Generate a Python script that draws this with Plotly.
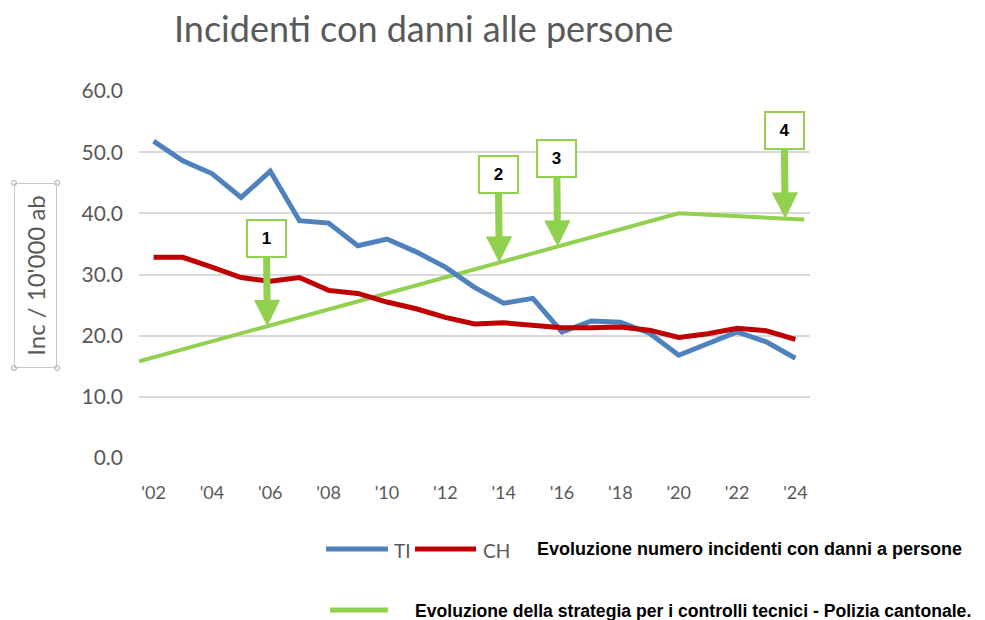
import numpy as np
import plotly.graph_objects as go

# ---------------- data ----------------
years = list(range(2002, 2025))
ti_values = [51.8, 48.6, 46.5, 42.6, 46.9, 38.8, 38.4, 34.7, 35.8, 33.7, 31.2, 27.9,
             25.3, 26.1, 20.6, 22.4, 22.2, 20.4, 16.8, 18.8, 20.6, 19.0, 16.3]
ch_values = [32.8, 32.8, 31.2, 29.5, 28.9, 29.5, 27.4, 26.9, 25.5, 24.4, 23.0, 21.9,
             22.1, 21.7, 21.3, 21.3, 21.4, 20.9, 19.7, 20.3, 21.2, 20.8, 19.4]
strategy_years = [2001.5, 2020.0, 2024.3]
strategy_values = [15.8, 40.0, 39.0]
step_labels = ["1", "2", "3", "4"]
step_years = [2005.9, 2013.85, 2015.85, 2023.65]
tick_years = list(range(2002, 2025, 2))
tick_labels = ["'" + str(y)[2:] for y in tick_years]
y_ticks = [0, 10, 20, 30, 40, 50, 60]

title_text = "Incidenti con danni alle persone"
y_title = "Inc / 10'000 ab"
legend_row1 = "Evoluzione numero incidenti con danni a persone"
legend_row2 = "Evoluzione della strategia per i controlli tecnici - Polizia cantonale."

# ---------------- style ----------------
BLUE = "#4F81BD"
RED = "#C00000"
GREEN = "#92D050"
GRAY = "#595959"
GRID = "#D9D9D9"

W, H = 985, 620
L, R, T, B = 139, 810, 91, 458  # plot area in pixels


def px(xp):
    return (xp - L) / (R - L)


def py(yp):
    return (B - yp) / (B - T)


fig = go.Figure()
fig.add_trace(go.Scatter(x=strategy_years, y=strategy_values, mode="lines",
                         line=dict(color=GREEN, width=4), name="strategia",
                         hoverinfo="skip"))
fig.add_trace(go.Scatter(x=years, y=ti_values, mode="lines",
                         line=dict(color=BLUE, width=5), name="TI"))
fig.add_trace(go.Scatter(x=years, y=ch_values, mode="lines",
                         line=dict(color=RED, width=5), name="CH"))

annotations = []
step_tips = np.interp(step_years, strategy_years, strategy_values)
for lab, xv, yv in zip(step_labels, step_years, step_tips):
    annotations.append(dict(
        x=xv, y=yv, xref="x", yref="y", text="<b>" + lab + "</b>",
        font=dict(family="Liberation Sans, Arial", size=17, color="black"),
        showarrow=True, ax=-1, ay=-88, axref="pixel", ayref="pixel",
        arrowcolor=GREEN, arrowwidth=7, arrowhead=2, arrowsize=0.75,
        bgcolor="white", bordercolor=GREEN, borderwidth=2, borderpad=0,
        width=37, height=35, standoff=0))

# title
annotations.append(dict(x=px(423), y=py(28), xref="paper", yref="paper",
                        text=title_text, showarrow=False,
                        font=dict(family="Lato, Open Sans", size=36, color=GRAY),
                        xanchor="center", yanchor="middle"))
# y-axis title in a box
annotations.append(dict(x=px(35.5), y=py(275.5), xref="paper", yref="paper",
                        text=y_title, showarrow=False, textangle=-90,
                        font=dict(family="Lato, Open Sans", size=24, color=GRAY),
                        bordercolor="#C8C8C8", borderwidth=1, borderpad=0,
                        width=183, height=41,
                        xanchor="center", yanchor="middle"))

# legend (custom)
shapes = []
for (x0, x1, yy, c, w) in [(326, 388, 549, BLUE, 5), (415, 476, 549, RED, 5),
                           (330, 388, 610, GREEN, 5)]:
    shapes.append(dict(type="line", xref="paper", yref="paper",
                       x0=px(x0), x1=px(x1), y0=py(yy), y1=py(yy),
                       line=dict(color=c, width=w)))
annotations.append(dict(x=px(392), y=py(550), xref="paper", yref="paper",
                        text="TI", showarrow=False, xanchor="left", yanchor="middle",
                        font=dict(family="Lato, Open Sans", size=19, color=GRAY)))
annotations.append(dict(x=px(481), y=py(550), xref="paper", yref="paper",
                        text="CH", showarrow=False, xanchor="left", yanchor="middle",
                        font=dict(family="Lato, Open Sans", size=19, color=GRAY)))
annotations.append(dict(x=px(535), y=py(549), xref="paper", yref="paper",
                        text="<b>" + legend_row1 + "</b>", showarrow=False,
                        xanchor="left", yanchor="middle",
                        font=dict(family="Liberation Sans, Arial", size=18, color="black")))
annotations.append(dict(x=px(413), y=py(611), xref="paper", yref="paper",
                        text="<b>" + legend_row2 + "</b>", showarrow=False,
                        xanchor="left", yanchor="middle",
                        font=dict(family="Liberation Sans, Arial", size=17.6, color="black")))

# selection handles on the y-title box
for (hx, hy) in [(14, 183), (57, 183), (14, 368), (57, 368)]:
    shapes.append(dict(type="circle", xref="paper", yref="paper",
                       x0=px(hx - 2.5), x1=px(hx + 2.5), y0=py(hy + 2.5), y1=py(hy - 2.5),
                       line=dict(color="#A6A6A6", width=1), fillcolor="white"))

fig.update_layout(
    width=W, height=H,
    margin=dict(l=L, r=W - R, t=T, b=H - B),
    paper_bgcolor="white", plot_bgcolor="white",
    showlegend=False,
    annotations=annotations, shapes=shapes,
    xaxis=dict(range=[2001.5, 2024.5], tickvals=tick_years, ticktext=tick_labels,
               showgrid=False, zeroline=False, showline=False, ticks="",
               ticklabelstandoff=22,
               tickfont=dict(family="Lato, Open Sans", size=18, color=GRAY)),
    yaxis=dict(range=[0, 60], tickvals=y_ticks, tickformat=".1f",
               showgrid=True, gridcolor=GRID, gridwidth=1.5,
               zeroline=False, showline=False, ticks="",
               ticklabelstandoff=15,
               tickfont=dict(family="Lato, Open Sans", size=21, color=GRAY)),
)

fig.write_html("out.html", config={"displayModeBar": False},
               post_script="document.body.style.margin='0';document.body.style.overflow='hidden';")
